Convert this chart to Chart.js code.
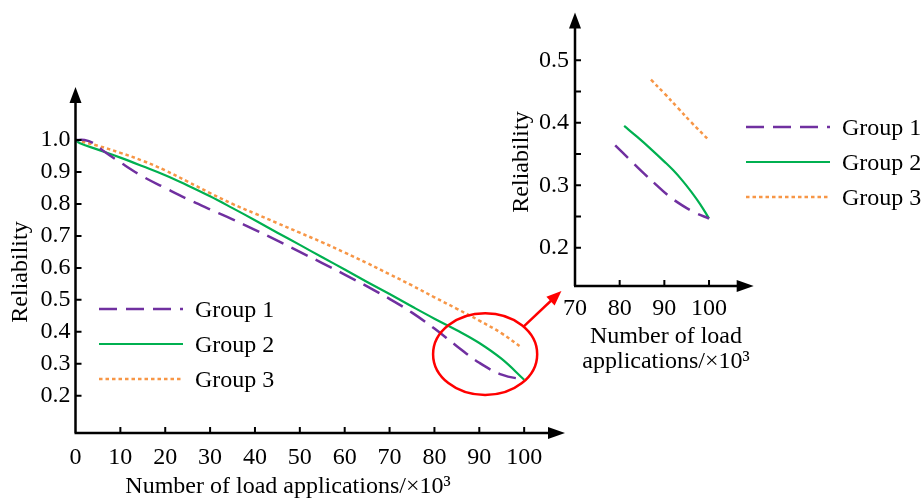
<!DOCTYPE html>
<html>
<head>
<meta charset="utf-8">
<script src="https://cdn.jsdelivr.net/npm/chart.js@4.4.1/dist/chart.umd.min.js"></script>
<style>
html, body { margin: 0; padding: 0; background: #fff; }
#wrap { position: relative; width: 923px; height: 498px; overflow: hidden; }
#mainChart { position: absolute; left: 0; top: 0; }
#insetChart { position: absolute; left: 490px; top: 0; }
</style>
</head>
<body>
<div id="wrap">
<canvas id="mainChart" width="923" height="498"></canvas>
<canvas id="insetChart" width="433" height="400"></canvas>
</div>
<script>
// tick labels
const mainTickX = [0, 10, 20, 30, 40, 50, 60, 70, 80, 90, 100];
const mainTickY = [0.2, 0.3, 0.4, 0.5, 0.6, 0.7, 0.8, 0.9, 1.0];
const insetTickX = [70, 80, 90, 100];
const insetTickY = [0.2, 0.3, 0.4, 0.5];
const insetMinorY = [0.25, 0.35, 0.45];

// series names
const groupNames = ['Group 1', 'Group 2', 'Group 3'];

// main chart, load applications (x10^3) vs reliability
const group1X = [0, 2, 4, 6, 10, 15, 20, 25, 30, 35, 40, 45, 50, 55, 60, 65, 70, 75, 80, 85, 90, 95, 100];
const group1Y = [1.0, 1.0, 0.99, 0.968, 0.93, 0.886, 0.85, 0.815, 0.783, 0.752, 0.719, 0.685, 0.65, 0.615, 0.579, 0.542, 0.503, 0.46, 0.41, 0.355, 0.303, 0.266, 0.25];
const group2X = [0, 1, 5, 10, 15, 20, 25, 30, 35, 40, 45, 50, 55, 60, 65, 70, 75, 80, 85, 90, 95, 100];
const group2Y = [1.0, 0.99, 0.97, 0.945, 0.918, 0.89, 0.858, 0.824, 0.787, 0.749, 0.71, 0.672, 0.633, 0.595, 0.556, 0.518, 0.479, 0.441, 0.405, 0.365, 0.315, 0.25];
const group3X = [0, 5, 10, 15, 20, 25, 30, 35, 40, 45, 50, 55, 60, 65, 70, 75, 80, 85, 90, 95, 99.5];
const group3Y = [1.0, 0.982, 0.96, 0.935, 0.905, 0.87, 0.834, 0.80, 0.77, 0.74, 0.71, 0.68, 0.648, 0.615, 0.58, 0.545, 0.508, 0.472, 0.435, 0.395, 0.35];

// inset (zoomed tail)
const inset1X = [79, 82, 85, 88, 91, 94, 97, 100];
const inset1Y = [0.364, 0.343, 0.322, 0.302, 0.283, 0.268, 0.256, 0.247];
const inset2X = [81, 84, 87, 90, 92, 94, 96, 98, 100];
const inset2Y = [0.395, 0.377, 0.358, 0.338, 0.324, 0.308, 0.29, 0.27, 0.247];
const inset3X = [87, 90, 93, 96, 100];
const inset3Y = [0.469, 0.447, 0.424, 0.401, 0.372];

const FONT = '"Liberation Serif", "Times New Roman", serif';
const FONT_SIZE = 24;
const INK = '#000000';
const colors = ['#7030A0', '#00B050', '#F79646'];

Chart.defaults.font.family = FONT;
Chart.defaults.color = INK;

function toPoints(xs, ys) {
  return xs.map((x, i) => ({ x: x, y: ys[i] }));
}

function makeDatasets(series) {
  return series.map((s, i) => ({
    label: groupNames[i],
    data: toPoints(s[0], s[1]),
    borderColor: colors[i],
    borderWidth: i === 1 ? 2.2 : 2.5,
    borderDash: i === 0 ? [18, 9] : (i === 2 ? [3.5, 3] : []),
    pointRadius: 0,
    fill: false,
    tension: 0.4
  }));
}

function arrowHead(ctx, x, y, angle, len, half) {
  ctx.save();
  ctx.translate(x, y);
  ctx.rotate(angle);
  ctx.beginPath();
  ctx.moveTo(0, 0);
  ctx.lineTo(-len, -half);
  ctx.lineTo(-len, half);
  ctx.closePath();
  ctx.fill();
  ctx.restore();
}

// axes with arrows, inward ticks, titles, legend and zoom mark
const decor = {
  id: 'decor',
  afterDraw(chart, args, opts) {
    const ctx = chart.ctx;
    const a = chart.chartArea;
    const xs = chart.scales.x;
    const ys = chart.scales.y;
    ctx.save();
    ctx.strokeStyle = INK;
    ctx.fillStyle = INK;
    ctx.lineWidth = 2.5;
    ctx.setLineDash([]);

    // axis lines
    ctx.beginPath();
    ctx.moveTo(a.left, a.bottom);
    ctx.lineTo(a.left, a.top + 10);
    ctx.moveTo(a.left - 1, a.bottom);
    ctx.lineTo(a.right - 10, a.bottom);
    ctx.stroke();
    arrowHead(ctx, a.left, a.top, -Math.PI / 2, 16, 6);
    arrowHead(ctx, a.right, a.bottom, 0, 17, 6);

    // tick marks pointing inside
    ctx.lineWidth = 2;
    ctx.beginPath();
    opts.xMarks.forEach(v => {
      const px = xs.getPixelForValue(v);
      ctx.moveTo(px, a.bottom);
      ctx.lineTo(px, a.bottom - 6);
    });
    opts.yMarks.forEach(v => {
      const py = ys.getPixelForValue(v);
      ctx.moveTo(a.left, py);
      ctx.lineTo(a.left + 6, py);
    });
    ctx.stroke();

    // axis titles
    ctx.font = FONT_SIZE + 'px ' + FONT;
    ctx.textAlign = 'center';
    ctx.textBaseline = 'alphabetic';
    opts.xTitle.lines.forEach((t, i) => {
      ctx.fillText(t, opts.xTitle.x, opts.xTitle.y + i * opts.xTitle.gap);
    });
    ctx.save();
    ctx.translate(opts.yTitle.x, opts.yTitle.y);
    ctx.rotate(-Math.PI / 2);
    ctx.fillText(opts.yTitle.text, 0, 0);
    ctx.restore();

    // legend
    const L = opts.legend;
    chart.data.datasets.forEach((ds, i) => {
      const ly = L.y + i * L.gap;
      ctx.save();
      ctx.strokeStyle = ds.borderColor;
      ctx.lineWidth = ds.borderWidth;
      ctx.setLineDash(ds.borderDash);
      ctx.beginPath();
      ctx.moveTo(L.x, ly);
      ctx.lineTo(L.x + L.len, ly);
      ctx.stroke();
      ctx.restore();
      ctx.textAlign = 'left';
      ctx.textBaseline = 'middle';
      ctx.fillText(ds.label, L.x + L.len + 12, ly + 2);
    });

    // red ring round the tail and arrow toward the inset
    const m = opts.mark;
    if (m) {
      const cx = xs.getPixelForValue(m.cx);
      const cy = ys.getPixelForValue(m.cy);
      const rx = xs.getPixelForValue(m.cx + m.rx) - cx;
      const ry = cy - ys.getPixelForValue(m.cy + m.ry);
      ctx.strokeStyle = '#FF0000';
      ctx.fillStyle = '#FF0000';
      ctx.lineWidth = 2.5;
      ctx.beginPath();
      ctx.ellipse(cx, cy, rx, ry, 0, 0, Math.PI * 2);
      ctx.stroke();
      const sx = cx + rx * Math.cos(m.angle);
      const sy = cy + ry * Math.sin(m.angle);
      const tx = xs.getPixelForValue(m.tipX);
      const ty = ys.getPixelForValue(m.tipY);
      const ang = Math.atan2(ty - sy, tx - sx);
      ctx.beginPath();
      ctx.moveTo(sx, sy);
      ctx.lineTo(tx - 10 * Math.cos(ang), ty - 10 * Math.sin(ang));
      ctx.stroke();
      arrowHead(ctx, tx, ty, ang, 15, 6);
    }
    ctx.restore();
  }
};

function tickScale(min, max, values, fmt, size, pad, isX) {
  return {
    type: 'linear',
    min: min,
    max: max,
    grid: { display: false },
    border: { display: false },
    afterBuildTicks: s => { s.ticks = values.map(v => ({ value: v })); },
    afterFit: s => { if (isX) { s.height = size; } else { s.width = size; } },
    ticks: {
      color: INK,
      font: { family: FONT, size: FONT_SIZE },
      padding: pad,
      maxRotation: 0,
      autoSkip: false,
      callback: fmt
    }
  };
}

new Chart(document.getElementById('mainChart'), {
  type: 'line',
  data: {
    datasets: makeDatasets([[group1X, group1Y], [group2X, group2Y], [group3X, group3Y]])
  },
  options: {
    responsive: false,
    animation: false,
    layout: { padding: { left: 0, top: 87, right: 358, bottom: 0 } },
    plugins: {
      legend: { display: false },
      tooltip: { enabled: false },
      decor: {
        xMarks: mainTickX.slice(1),
        yMarks: mainTickY,
        xTitle: { lines: ['Number of load applications/\u00d710\u00b3'], x: 288, y: 493, gap: 0 },
        yTitle: { text: 'Reliability', x: 27, y: 272 },
        legend: { x: 99, y: 309, gap: 35, len: 84 },
        mark: { cx: 91.3, cy: 0.33, rx: 11.6, ry: 0.128, angle: -0.74, tipX: 108.3, tipY: 0.528 }
      }
    },
    scales: {
      x: tickScale(0, 109.1, mainTickX, v => String(v), 65, 2, true),
      y: tickScale(0.0833, 1.166, mainTickY, v => v.toFixed(1), 75.5, -3, false)
    }
  },
  plugins: [decor]
});

new Chart(document.getElementById('insetChart'), {
  type: 'line',
  data: {
    datasets: makeDatasets([[inset1X, inset1Y], [inset2X, inset2Y], [inset3X, inset3Y]])
  },
  options: {
    responsive: false,
    animation: false,
    layout: { padding: { left: 0, top: 6, right: 169.3, bottom: 0 } },
    plugins: {
      legend: { display: false },
      tooltip: { enabled: false },
      decor: {
        xMarks: insetTickX.slice(1),
        yMarks: insetTickY.concat(insetMinorY),
        xTitle: { lines: ['Number of load', 'applications/\u00d710\u00b3'], x: 176, y: 343, gap: 25 },
        yTitle: { text: 'Reliability', x: 38, y: 162 },
        legend: { x: 256, y: 127, gap: 35, len: 84 },
        mark: null
      }
    },
    scales: {
      x: tickScale(70, 110, insetTickX, v => String(v), 114, 0, true),
      y: tickScale(0.139, 0.5766, insetTickY, v => v.toFixed(1), 85, -2, false)
    }
  },
  plugins: [decor]
});
</script>
</body>
</html>
